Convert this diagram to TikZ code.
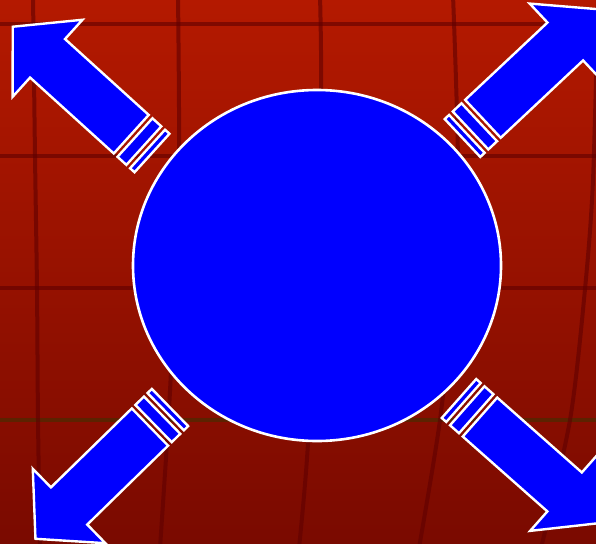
\documentclass[tikz,border=0pt]{standalone}
\usetikzlibrary{shadings,shapes.geometric}
\definecolor{bgtop}{RGB}{180,25,0}
\definecolor{bgbot}{RGB}{122,10,0}
\definecolor{gridred}{RGB}{95,0,0}
\definecolor{gridbrown}{RGB}{92,34,0}
\definecolor{arrowblue}{RGB}{0,0,255}
\tikzset{
  gridline/.style={line width=4pt, gridred, opacity=0.6},
  bluepart/.style={fill=arrowblue, draw=white, line width=2.4pt, line join=miter},
  hubstyle/.style={ellipse, fill=arrowblue, draw=white, line width=2.6pt,
    minimum width=368pt, minimum height=351pt, inner sep=0pt},
  stripedarrow/.pic={
    \path[bluepart] (0,-26) rectangle (6,26);
    \path[bluepart] (11,-26) rectangle (23,26);
    \path[bluepart] (28,-26) -- (141,-26) -- (141,-52) -- (188,0)
        -- (141,52) -- (141,26) -- (28,26) -- cycle;
  }
}
\begin{document}
\begin{tikzpicture}[x=1pt,y=-1pt]
\useasboundingbox (0,0) rectangle (596,543);
\clip (0,0) rectangle (596,543);
\shade[top color=bgtop, bottom color=bgbot] (0,0) rectangle (596,543);
% grid
\draw[gridline] (0,24) -- (596,24);
\draw[gridline] (0,156) -- (596,156);
\draw[gridline] (0,288) -- (596,288);
\draw[line width=4pt, gridbrown] (0,420) -- (596,420);
\draw[gridline] plot[smooth] coordinates {(33,-5) (35,156) (37,289) (38,420) (40,548)};
\draw[gridline] plot[smooth] coordinates {(178,-5) (179,170) (174,300) (169,410) (160,548)};
\draw[gridline] plot[smooth] coordinates {(320,-5) (321,90) (316,250) (308,443) (299,548)};
\draw[gridline] plot[smooth] coordinates {(453,-5) (458,170) (452,300) (440,420) (419,548)};
\draw[gridline] plot[smooth] coordinates {(598,-5) (593,180) (585,289) (570,420) (541,548)};
% hub
\node[hubstyle] (hub) at (317,265.5) {};
% arrows
\pic[shift={(152,153)}, rotate=137.8] (tl) {stripedarrow};
\pic[shift={(462.5,138)}, rotate=43.2] (tr) {stripedarrow};
\pic[shift={(170,407.5)}, rotate=224.3] (bl) {stripedarrow};
\pic[shift={(459,398.5)}, rotate=-41.5] (br) {stripedarrow};
\end{tikzpicture}
\end{document}
